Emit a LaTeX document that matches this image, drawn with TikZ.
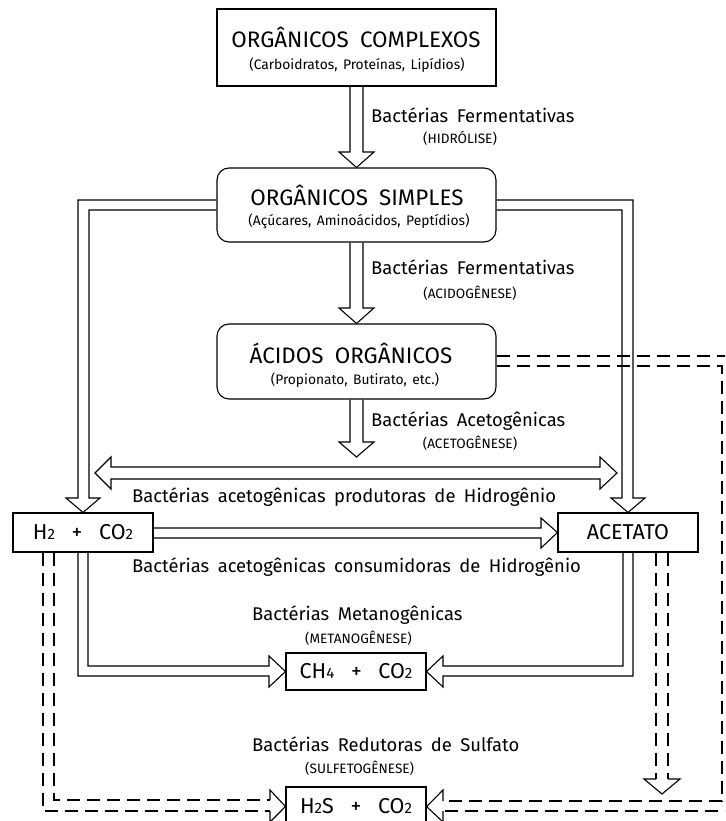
\documentclass[tikz,border=0pt]{standalone}
\usepackage{fontspec}
\setmainfont{Fira Sans}
\usetikzlibrary{calc}
\newcommand\fbig{\fontsize{22.4}{25}\selectfont\spaceskip=0.5em plus 0.1em\relax}
\newcommand\fboxt{\fontsize{21.5}{24}\selectfont}
\newcommand\fmid{\fontsize{18.4}{21}\selectfont\spaceskip=0.46em plus 0.1em\relax}
\newcommand\fsubt{\fontsize{13.8}{16}\selectfont\spaceskip=0.4em plus 0.1em\relax}
\newcommand\fsmall{\fontsize{13.6}{16}\selectfont}
\newcommand\lowsub[1]{{\fontsize{15}{16}\selectfont #1}}
\newcommand\plussep{\hspace{0.78em}+\hspace{0.78em}}
\begin{document}
\begin{tikzpicture}[x=1pt,y=-1pt,
  ln/.style={line width=1.1pt, line join=miter},
  dsh/.style={line width=1.1pt, dash pattern=on 13pt off 7pt},
  bx/.style={draw, line width=1.1pt, inner sep=0pt, minimum width=#1},
  bx/.default=140pt,
  txt/.style={inner sep=0pt},
  lbl/.style={inner sep=0pt, anchor=west, font=\fmid},
  sml/.style={inner sep=0pt, font=\fsmall}]
\clip (0,0) rectangle (725,821);
% boxes
\node[bx=279pt, minimum height=77pt] (b1) at (356.5,47.5) {};
\node[bx=279pt, minimum height=74pt, rounded corners=12pt] (b2) at (356.5,205) {};
\node[bx=279pt, minimum height=75pt, rounded corners=12pt] (b3) at (356.5,361.5) {};
\node[bx, minimum height=39pt, font=\fboxt] (bh2) at (83,532.5) {H\lowsub{2}\plussep CO\lowsub{2}};
\node[bx, minimum height=39pt, font=\fboxt] (bac) at (628,532.5) {ACETATO};
\node[bx, minimum height=37pt, font=\fboxt] (bch4) at (356,671.5) {CH\lowsub{4}\plussep CO\lowsub{2}};
\node[bx, minimum height=39pt, font=\fboxt] (bh2s) at (356,806.5) {H\lowsub{2}S\plussep CO\lowsub{2}};
% box texts
\node[txt, font=\fbig] (t1a) at (356,37) {ORGÂNICOS COMPLEXOS};
\node[txt, font=\fsubt] (t1b) at (357,65) {(Carboidratos, Proteínas, Lipídios)};
\node[txt, font=\fbig] (t2a) at (357,195) {ORGÂNICOS SIMPLES};
\node[txt, font=\fsubt] (t2b) at (359,221) {(Açúcares, Aminoácidos, Peptídios)};
\node[txt, font=\fbig] (t3a) at (351,353) {ÁCIDOS ORGÂNICOS};
\node[txt, font=\fsubt] (t3b) at (355,380) {(Propionato, Butirato, etc.)};
% labels
\node[lbl] (l1a) at (371,115) {Bactérias Fermentativas};
\node[sml] (l1b) at (460,138) {(HIDRÓLISE)};
\node[lbl] (l2a) at (371,267) {Bactérias Fermentativas};
\node[sml] (l2b) at (470,293) {(ACIDOGÊNESE)};
\node[lbl] (l3a) at (371,421) {Bactérias Acetogênicas};
\node[sml] (l3b) at (470,443) {(ACETOGÊNESE)};
\node[lbl] (l4) at (132,497) {Bactérias acetogênicas produtoras de Hidrogênio};
\node[lbl] (l5) at (132,567) {Bactérias acetogênicas consumidoras de Hidrogênio};
\node[lbl] (l6a) at (252,615) {Bactérias Metanogênicas};
\node[sml, anchor=west] (l6b) at (305,638) {(METANOGÊNESE)};
\node[lbl] (l7a) at (252,744) {Bactérias Redutoras de Sulfato};
\node[sml, anchor=west] (l7b) at (305,768) {(SULFETOGÊNESE)};
% dashed connectors
\draw[dsh] ($(b3.east)+(0,-5.5)$) -- (740,356) -- (740,811) -- (443,811);
\draw[dsh] ($(b3.east)+(0,4.5)$) -- (722,366) -- (722,801) -- (443,801);
\draw[ln] (443,801) -- (443,790) -- (bh2s.east) -- (443,822) -- (443,811);
\draw[dsh] ($(bh2.south)+(-40,0)$) -- (43,811) -- (270,811);
\draw[dsh] ($(bh2.south)+(-29,0)$) -- (54,800) -- (270,800);
\draw[ln] (270,800) -- (270,790) -- (bh2s.west) -- (270,822) -- (270,811);
\draw[dsh] ($(bac.south)+(28,0)$) -- (656,779);
\draw[dsh] ($(bac.south)+(40,0)$) -- (668,779);
\draw[ln] (656,779) -- (644,779) -- (662,794) -- (680,779) -- (668,779);
% solid hollow connectors
\draw[ln] ($(b1.south)+(-6.5,0)$) -- (350,152) -- (339,152) -- (b2.north) -- (374,152) -- (363,152) -- ($(b1.south)+(6.5,0)$);
\draw[ln] ($(b2.south)+(-6.5,0)$) -- (350,308) -- (339,308) -- (b3.north) -- (374,308) -- (363,308) -- ($(b2.south)+(6.5,0)$);
\draw[ln] ($(b3.south)+(-6.5,0)$) -- (350,442) -- (339,442) -- (356.5,457) -- (374,442) -- (363,442) -- ($(b3.south)+(6.5,0)$);
\draw[ln] (111,467) -- (600,467) -- (600,457) -- (617,473) -- (600,489) -- (600,479) -- (111,479) -- (111,489) -- (95,473) -- (111,457) -- cycle;
\draw[ln] ($(b2.west)+(0,-5)$) -- (78,200) -- (78,498) -- (66,498) -- (bh2.north) -- (100,498) -- (89,498) -- (89,210) -- ($(b2.west)+(0,5)$);
\draw[ln] ($(b2.east)+(0,-5)$) -- (633,200) -- (633,498) -- (645,498) -- (bac.north) -- (611,498) -- (622,498) -- (622,210) -- ($(b2.east)+(0,5)$);
\draw[ln] ($(bh2.east)+(0,-4.5)$) -- (541,528) -- (541,518) -- (bac.west) -- (541,548) -- (541,538) -- ($(bh2.east)+(0,5.5)$);
\draw[ln] ($(bh2.south)+(-5,0)$) -- (78,676) -- (269,676) -- (269,687) -- (bch4.west) -- (269,656) -- (269,666) -- (88,666) -- ($(bh2.south)+(5,0)$);
\draw[ln] ($(bac.south)+(5,0)$) -- (633,676) -- (443,676) -- (443,687) -- (bch4.east) -- (443,656) -- (443,666) -- (623,666) -- ($(bac.south)+(-5,0)$);
\end{tikzpicture}
\end{document}
